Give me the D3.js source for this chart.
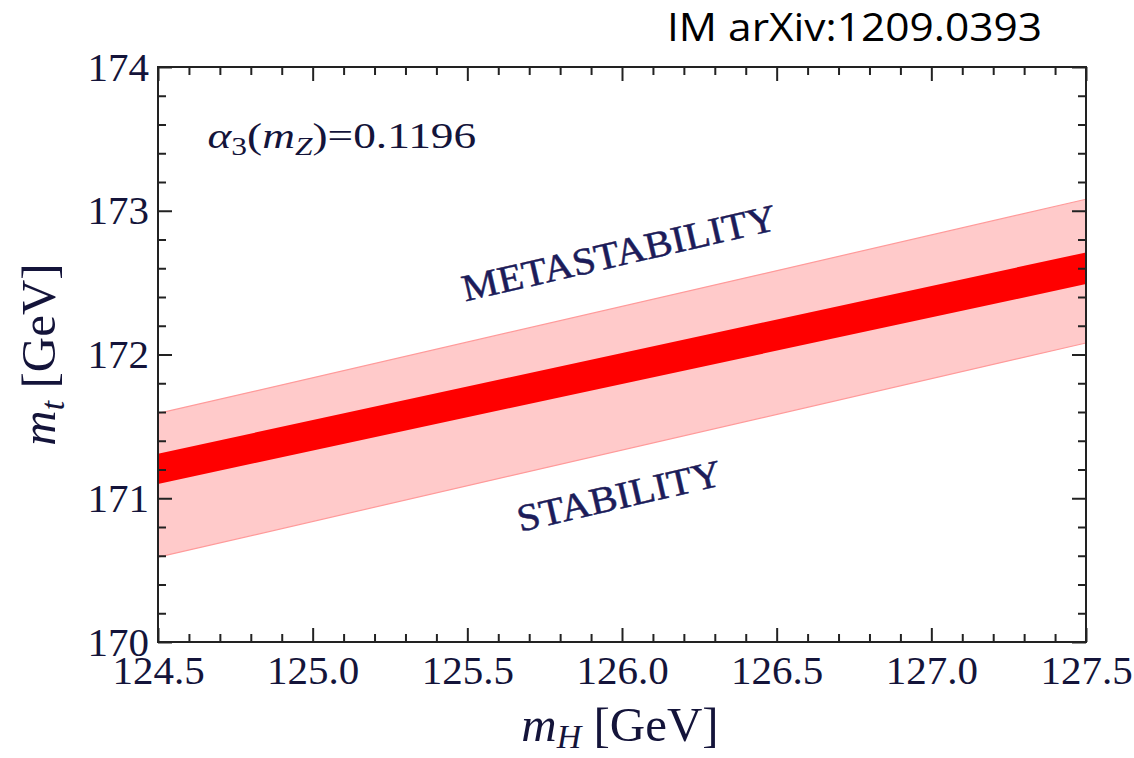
<!DOCTYPE html>
<html>
<head>
<meta charset="utf-8">
<script src="https://cdn.jsdelivr.net/npm/d3@7"></script>
<style>
  html, body { margin: 0; padding: 0; background: #fff; }
  svg { display: block; }
</style>
</head>
<body>
<svg id="chart" width="1134" height="758"></svg>
<script>
// Higgs mass vs top mass: stability / metastability boundary band
const mHEnds = [124.5, 127.5];
const outerLow = [170.59, 172.08];   // 2-sigma band, lower edge
const outerHigh = [171.59, 173.08];  // 2-sigma band, upper edge
const innerLow = [171.10, 172.49];   // central band, lower edge
const innerHigh = [171.31, 172.71];  // central band, upper edge

const xTicks = [124.5, 125.0, 125.5, 126.0, 126.5, 127.0, 127.5];
const xTickLabels = ["124.5", "125.0", "125.5", "126.0", "126.5", "127.0", "127.5"];
const yTicks = [170, 171, 172, 173, 174];
const yTickLabels = ["170", "171", "172", "173", "174"];

const W = 1134, H = 758;
const margin = { left: 158, top: 67, right: 1134 - 1086, bottom: 758 - 642 };
const svg = d3.select("#chart");

const x = d3.scaleLinear().domain([124.5, 127.5]).range([margin.left, W - margin.right]);
const y = d3.scaleLinear().domain([170, 174]).range([H - margin.bottom, margin.top]);

const serif = "'Liberation Serif', 'Times New Roman', serif";
const textCol = "#14143a";

svg.append("defs").append("clipPath").attr("id", "plotclip")
  .append("rect")
  .attr("x", x(124.5)).attr("y", y(174))
  .attr("width", x(127.5) - x(124.5)).attr("height", y(170) - y(174));

const bandRows = (lo, hi) => mHEnds.map((m, i) => ({ m, lo: lo[i], hi: hi[i] }));
const area = d3.area().x(d => x(d.m)).y0(d => y(d.lo)).y1(d => y(d.hi));
const edge = d3.line().x(d => x(d.m)).y(d => d.v);

const plot = svg.append("g").attr("clip-path", "url(#plotclip)");

// outer band
plot.append("path").datum(bandRows(outerLow, outerHigh))
  .attr("d", area).attr("fill", "#ffcaca");
[outerLow, outerHigh].forEach(arr => {
  plot.append("path")
    .datum(mHEnds.map((m, i) => ({ m, v: y(arr[i]) })))
    .attr("d", edge).attr("fill", "none")
    .attr("stroke", "#ff9a9a").attr("stroke-width", 1.2);
});

// central band
plot.append("path").datum(bandRows(innerLow, innerHigh))
  .attr("d", area).attr("fill", "#ff0000");

// frame
svg.append("rect")
  .attr("x", x(124.5)).attr("y", y(174))
  .attr("width", x(127.5) - x(124.5)).attr("height", y(170) - y(174))
  .attr("fill", "none").attr("stroke", "#222").attr("stroke-width", 2);

// ticks (inward on all four sides)
const xMinor = d3.range(124.5, 127.5001, 0.1).filter(v => Math.abs((v - 124.5) / 0.5 - Math.round((v - 124.5) / 0.5)) > 1e-6);
const yMinor = d3.range(170, 174.0001, 0.2).filter(v => Math.abs(v - Math.round(v)) > 1e-6);

function styleAxis(g) {
  g.select(".domain").remove();
  g.selectAll(".tick line").attr("stroke", "#222").attr("stroke-width", 2);
  g.selectAll(".tick text")
    .attr("font-family", serif).attr("font-size", 41).attr("fill", textCol);
}

const majorLen = 14, minorLen = 8;

svg.append("g").attr("transform", `translate(0,${y(170)})`)
  .call(d3.axisBottom(x).tickValues(xTicks).tickSizeInner(-majorLen).tickSizeOuter(0)
    .tickPadding(12).tickFormat((d, i) => xTickLabels[i]))
  .call(styleAxis)
  .call(g => g.selectAll(".tick text").attr("dy", "0.72em"));
svg.append("g").attr("transform", `translate(0,${y(170)})`)
  .call(d3.axisBottom(x).tickValues(xMinor).tickSizeInner(-minorLen).tickSizeOuter(0).tickFormat(""))
  .call(styleAxis);
svg.append("g").attr("transform", `translate(0,${y(174)})`)
  .call(d3.axisTop(x).tickValues(xTicks).tickSizeInner(-majorLen).tickSizeOuter(0).tickFormat(""))
  .call(styleAxis);
svg.append("g").attr("transform", `translate(0,${y(174)})`)
  .call(d3.axisTop(x).tickValues(xMinor).tickSizeInner(-minorLen).tickSizeOuter(0).tickFormat(""))
  .call(styleAxis);

svg.append("g").attr("transform", `translate(${x(124.5)},0)`)
  .call(d3.axisLeft(y).tickValues(yTicks).tickSizeInner(-majorLen).tickSizeOuter(0)
    .tickPadding(9).tickFormat((d, i) => yTickLabels[i]))
  .call(styleAxis);
svg.append("g").attr("transform", `translate(${x(124.5)},0)`)
  .call(d3.axisLeft(y).tickValues(yMinor).tickSizeInner(-minorLen).tickSizeOuter(0).tickFormat(""))
  .call(styleAxis);
svg.append("g").attr("transform", `translate(${x(127.5)},0)`)
  .call(d3.axisRight(y).tickValues(yTicks).tickSizeInner(-majorLen).tickSizeOuter(0).tickFormat(""))
  .call(styleAxis);
svg.append("g").attr("transform", `translate(${x(127.5)},0)`)
  .call(d3.axisRight(y).tickValues(yMinor).tickSizeInner(-minorLen).tickSizeOuter(0).tickFormat(""))
  .call(styleAxis);

// axis titles
const xt = svg.append("text")
  .attr("x", (x(124.5) + x(127.5)) / 2 - 2).attr("y", 741)
  .attr("text-anchor", "middle")
  .attr("font-family", serif).attr("font-size", 49).attr("fill", textCol);
xt.append("tspan").attr("font-style", "italic").text("m");
xt.append("tspan").attr("font-style", "italic").attr("font-size", 34).attr("dy", 7).text("H");
xt.append("tspan").attr("dy", -7).text(" [GeV]");

const yt = svg.append("text")
  .attr("transform", `translate(55,${(y(170) + y(174)) / 2}) rotate(-90)`)
  .attr("text-anchor", "middle")
  .attr("font-family", serif).attr("font-size", 49).attr("fill", textCol);
yt.append("tspan").attr("font-style", "italic").text("m");
yt.append("tspan").attr("font-style", "italic").attr("font-size", 34).attr("dy", 9).text("t");
yt.append("tspan").attr("dy", -9).text(" [GeV]");

// strong coupling annotation
const al = svg.append("text")
  .attr("transform", `translate(${x(124.66)},${y(173.44)}) scale(1.26,1)`)
  .attr("font-family", serif).attr("font-size", 36).attr("fill", textCol);
al.append("tspan").attr("font-style", "italic").text("α");
al.append("tspan").attr("font-size", 25).attr("dy", 7).text("3");
al.append("tspan").attr("dy", -7).text("(");
al.append("tspan").attr("font-style", "italic").text("m");
al.append("tspan").attr("font-style", "italic").attr("font-size", 25).attr("dy", 7).text("Z");
al.append("tspan").attr("dy", -7).text(")=0.1196");

// region labels aligned with the band
const bandAngle = Math.atan2(y(outerHigh[1]) - y(outerHigh[0]), x(mHEnds[1]) - x(mHEnds[0])) * 180 / Math.PI;
const regions = [
  { label: "METASTABILITY", m: 126.0, t: 172.62 },
  { label: "STABILITY", m: 126.0, t: 170.93 }
];
svg.selectAll("text.region").data(regions).enter().append("text")
  .attr("class", "region")
  .attr("transform", d => `translate(${x(d.m)},${y(d.t)}) rotate(${bandAngle}) scale(1.08,1)`)
  .attr("text-anchor", "middle")
  .attr("font-family", serif).attr("font-size", 38).attr("fill", "#1c1c5a")
  .attr("stroke", "#1c1c5a").attr("stroke-width", 0.5)
  .text(d => d.label);

// reference tag
svg.append("text")
  .attr("x", 1042).attr("y", 41)
  .attr("text-anchor", "end")
  .attr("font-family", "'Open Sans', 'Noto Sans', sans-serif")
  .attr("font-size", 38).attr("fill", "#000")
  .attr("textLength", 375).attr("lengthAdjust", "spacingAndGlyphs")
  .text("IM arXiv:1209.0393");
</script>
</body>
</html>
